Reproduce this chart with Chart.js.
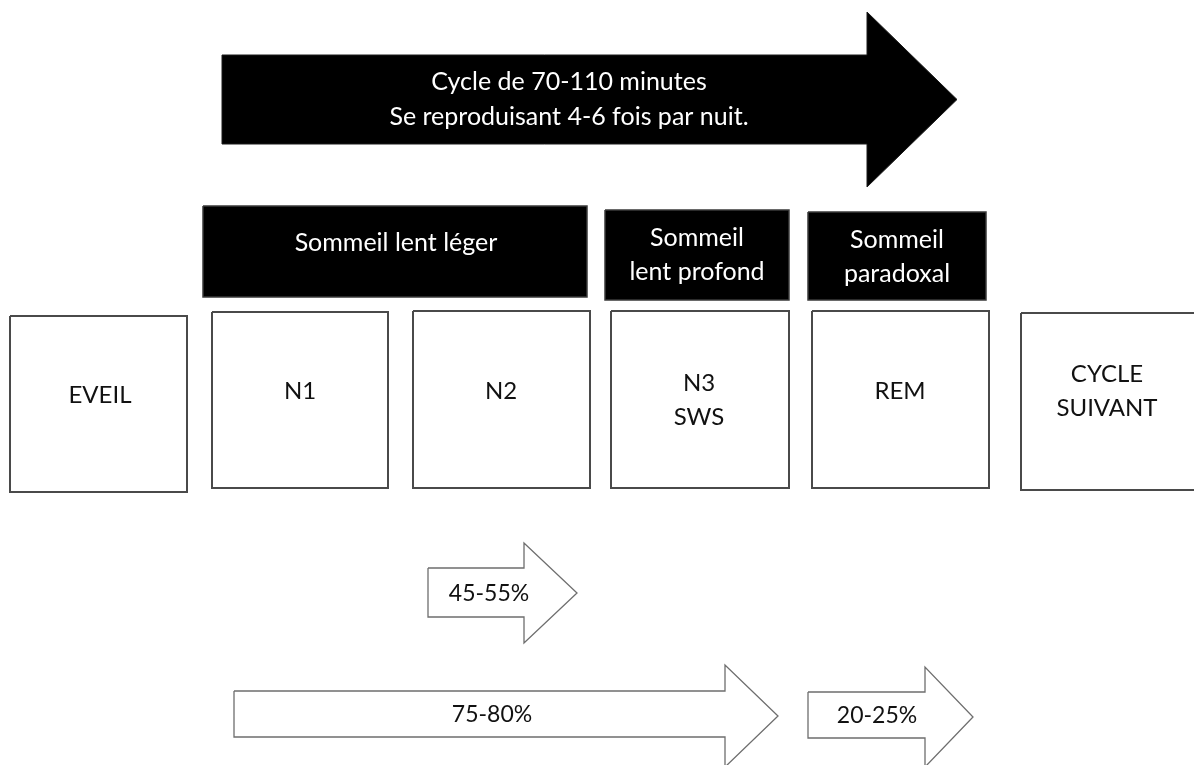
<!DOCTYPE html>
<html>
<head>
<meta charset="utf-8">
<script src="https://cdn.jsdelivr.net/npm/chart.js@4/dist/chart.umd.min.js"></script>
<style>
  html, body { margin: 0; padding: 0; background: #fff; }
  #wrap { width: 1194px; height: 765px; }
</style>
</head>
<body>
<div id="wrap"><canvas id="diagram" width="1194" height="765"></canvas></div>
<script>
'use strict';

// ── Texts of the diagram ──
const cycleText   = ['Cycle de 70-110 minutes', 'Se reproduisant 4-6 fois par nuit.'];
const groupLabels = [['Sommeil lent léger'], ['Sommeil', 'lent profond'], ['Sommeil', 'paradoxal']];
const stageLabels = [['EVEIL'], ['N1'], ['N2'], ['N3', 'SWS'], ['REM'], ['CYCLE', 'SUIVANT']];
const shareLabels = ['45-55%', '75-80%', '20-25%'];

// ── Layout (plot units = px of the 1194x765 picture) ──
// boxes: [left, top, right, bottom]
const groupBoxes = [[203, 206, 587, 297], [605, 210, 789, 300], [808, 212, 986, 300]];
const stageBoxes = [[10, 316, 187, 492], [212, 312, 388, 488], [413, 311, 590, 488],
                    [611, 311, 789, 488], [812, 311, 989, 488], [1021, 313, 1202, 490]];
// arrows: [shaftLeft, shaftTop, shaftBottom, headX, headTop, headBottom, tipX]
const bigArrow    = [222, 55, 144, 867, 12, 187, 957];
const shareArrows = [[428, 568, 617, 524, 543, 643, 577],
                     [234, 691, 737, 725, 665, 767, 778],
                     [808, 692, 738, 925, 667, 767, 973]];
// text anchors: [centerX, firstLineY]
const cycleAnchor  = [569, 82];
const groupAnchors = [[396, 243], [697, 238], [897, 240]];
const stageAnchors = [[100, 395], [300, 391], [501, 391], [699, 383], [900, 391], [1107, 374]];
const shareAnchors = [[489, 594], [492, 715], [877, 716]];

const LINE_GAP = 34;
const FONT = '"Lato", "Open Sans", sans-serif';

function boxPoints(b) {
  const [l, t, r, btm] = b;
  return [{x: l, y: t}, {x: r, y: t}, {x: r, y: btm}, {x: l, y: btm}, {x: l, y: t}];
}

function arrowPoints(a) {
  const [sl, st, sb, hx, ht, hb, tx] = a;
  const ty = (ht + hb) / 2;
  return [{x: sl, y: st}, {x: hx, y: st}, {x: hx, y: ht}, {x: tx, y: ty},
          {x: hx, y: hb}, {x: hx, y: sb}, {x: sl, y: sb}, {x: sl, y: st}];
}

function shape(points, fillColor, lineColor, lineWidth) {
  return {
    type: 'line',
    data: points,
    backgroundColor: fillColor,
    borderColor: lineColor,
    borderWidth: lineWidth,
    borderJoinStyle: 'miter',
    pointRadius: 0,
    tension: 0,
    fill: 'shape',
    clip: false,
  };
}

const datasets = [];
datasets.push(shape(arrowPoints(bigArrow), '#000', '#1a1a1a', 1));
groupBoxes.forEach(b => datasets.push(shape(boxPoints(b), '#000', '#3a3a3a', 1.5)));
stageBoxes.forEach(b => datasets.push(shape(boxPoints(b), '#fff', '#4a4a4a', 2)));
shareArrows.forEach(a => datasets.push(shape(arrowPoints(a), '#fff', '#6e6e6e', 1.3)));

// ── Labels drawn through the scales ──
const labelPlugin = {
  id: 'labels',
  afterDatasetsDraw(chart) {
    const { ctx, scales: { x, y } } = chart;
    const put = (lines, anchor, gap) => {
      lines.forEach((txt, i) => {
        ctx.fillText(txt, x.getPixelForValue(anchor[0]), y.getPixelForValue(anchor[1] + i * gap));
      });
    };
    ctx.save();
    ctx.textAlign = 'center';
    ctx.textBaseline = 'middle';

    ctx.fillStyle = '#fff';
    ctx.font = '25px ' + FONT;
    put(cycleText, cycleAnchor, 35);
    groupLabels.forEach((lines, i) => put(lines, groupAnchors[i], LINE_GAP));

    ctx.fillStyle = '#111';
    ctx.font = '24px ' + FONT;
    stageLabels.forEach((lines, i) => put(lines, stageAnchors[i], LINE_GAP));
    ctx.font = '23px ' + FONT;
    shareLabels.forEach((txt, i) => put([txt], shareAnchors[i], LINE_GAP));
    ctx.restore();
  }
};

new Chart(document.getElementById('diagram').getContext('2d'), {
  type: 'scatter',
  data: { datasets },
  options: {
    responsive: false,
    animation: false,
    events: [],
    layout: { padding: 0 },
    plugins: { legend: { display: false }, tooltip: { enabled: false } },
    scales: {
      x: { type: 'linear', min: 0, max: 1194, display: false },
      y: { type: 'linear', min: 0, max: 765, reverse: true, display: false },
    },
  },
  plugins: [labelPlugin],
});
</script>
</body>
</html>
